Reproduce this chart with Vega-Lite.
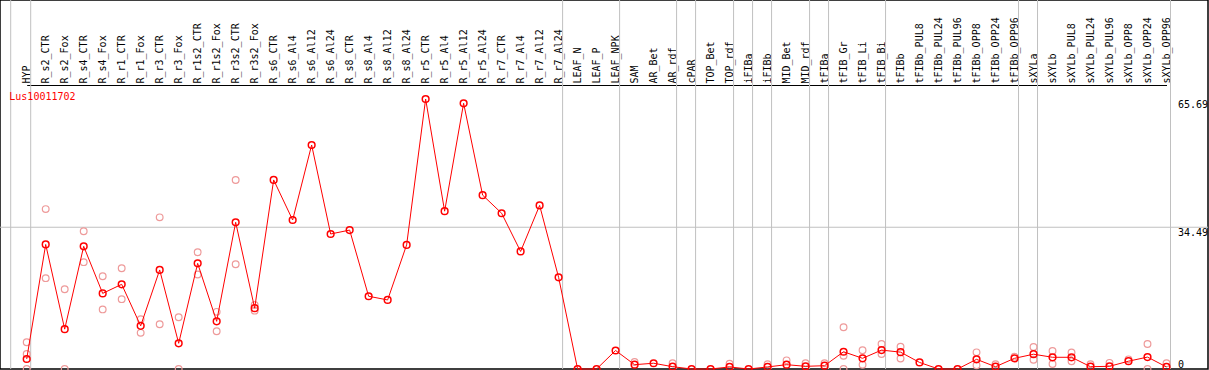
{
  "$schema": "https://vega.github.io/schema/vega-lite/v6.json",
  "width": 1208,
  "height": 369,
  "padding": {"left": 0, "top": 0, "right": 1, "bottom": 1},
  "autosize": {"type": "none"},
  "background": "white",
  "config": {
    "view": {"stroke": "#000000", "strokeWidth": 1.5},
    "font": "DejaVu Sans Mono",
    "axisX": {"offset": -85, "ticks": false, "grid": false, "domainColor": "#000000", "domainWidth": 1, "labelAngle": -90, "labelAlign": "left", "labelBaseline": "middle", "labelPadding": 2, "labelFont": "DejaVu Sans Mono", "labelFontSize": 10, "labelColor": "#000000", "labelOverlap": false, "labelBound": false, "labelFlush": false},
    "axisY": {"offset": -31, "domain": false, "ticks": false, "grid": false, "labelAlign": "left", "labelPadding": 0.5, "labelFont": "DejaVu Sans Mono", "labelFontSize": 10, "labelColor": "#000000", "labelFlush": false, "labelBaseline": {"condition": {"test": "datum.value == 0", "value": "bottom"}, "value": "top"}}
  },
  "datasets": {
    "main": [
      {"col": "HYP", "v": 2.43}, {"col": "R_s2_CTR", "v": 30.3}, {"col": "R_s2_Fox", "v": 9.7}, {"col": "R_s4_CTR", "v": 29.85}, {"col": "R_s4_Fox", "v": 18.4},
      {"col": "R_r1_CTR", "v": 20.6}, {"col": "R_r1_Fox", "v": 10.5}, {"col": "R_r3_CTR", "v": 24.1}, {"col": "R_r3_Fox", "v": 6.25}, {"col": "R_r1s2_CTR", "v": 25.7},
      {"col": "R_r1s2_Fox", "v": 11.6}, {"col": "R_r3s2_CTR", "v": 35.7}, {"col": "R_r3s2_Fox", "v": 14.8}, {"col": "R_s6_CTR", "v": 46.0}, {"col": "R_s6_Al4", "v": 36.25},
      {"col": "R_s6_Al12", "v": 54.5}, {"col": "R_s6_Al24", "v": 32.85}, {"col": "R_s8_CTR", "v": 33.8}, {"col": "R_s8_Al4", "v": 17.7}, {"col": "R_s8_Al12", "v": 16.8},
      {"col": "R_s8_Al24", "v": 30.2}, {"col": "R_r5_CTR", "v": 65.69}, {"col": "R_r5_Al4", "v": 38.4}, {"col": "R_r5_Al12", "v": 64.65}, {"col": "R_r5_Al24", "v": 42.3},
      {"col": "R_r7_CTR", "v": 37.9}, {"col": "R_r7_Al4", "v": 28.6}, {"col": "R_r7_Al12", "v": 39.8}, {"col": "R_r7_Al24", "v": 22.3}, {"col": "LEAF_N", "v": 0},
      {"col": "LEAF_P", "v": 0}, {"col": "LEAF_NPK", "v": 4.5}, {"col": "SAM", "v": 1.05}, {"col": "AR_Bet", "v": 1.4}, {"col": "AR_rdf", "v": 0.56},
      {"col": "cPAR", "v": 0}, {"col": "TOP_Bet", "v": 0}, {"col": "TOP_rdf", "v": 0.5}, {"col": "iFIBa", "v": 0}, {"col": "iFIBb", "v": 0.5},
      {"col": "MID_Bet", "v": 1.05}, {"col": "MID_rdf", "v": 0.65}, {"col": "tFIBa", "v": 0.8}, {"col": "tFIB_Gr", "v": 4.2}, {"col": "tFIB_Li", "v": 2.6},
      {"col": "tFIB_Bi", "v": 4.6}, {"col": "tFIBb", "v": 4.1}, {"col": "tFIBb_PUL8", "v": 1.6}, {"col": "tFIBb_PUL24", "v": 0}, {"col": "tFIBb_PUL96", "v": 0},
      {"col": "tFIBb_OPP8", "v": 2.35}, {"col": "tFIBb_OPP24", "v": 0.56}, {"col": "tFIBb_OPP96", "v": 2.6}, {"col": "sXYLa", "v": 3.6}, {"col": "sXYLb", "v": 2.85},
      {"col": "sXYLb_PUL8", "v": 2.85}, {"col": "sXYLb_PUL24", "v": 0.56}, {"col": "sXYLb_PUL96", "v": 0.65}, {"col": "sXYLb_OPP8", "v": 1.9}, {"col": "sXYLb_OPP24", "v": 2.9},
      {"col": "sXYLb_OPP96", "v": 0.5}
    ],
    "reps": [
      {"col": "HYP", "v": 6.5}, {"col": "HYP", "v": 3.65}, {"col": "HYP", "v": 0},
      {"col": "R_s2_CTR", "v": 38.9}, {"col": "R_s2_CTR", "v": 22.1},
      {"col": "R_s2_Fox", "v": 19.4}, {"col": "R_s2_Fox", "v": 0},
      {"col": "R_s4_CTR", "v": 33.5}, {"col": "R_s4_CTR", "v": 26.0},
      {"col": "R_s4_Fox", "v": 22.55}, {"col": "R_s4_Fox", "v": 14.5},
      {"col": "R_r1_CTR", "v": 24.5}, {"col": "R_r1_CTR", "v": 17.0},
      {"col": "R_r1_Fox", "v": 12.1}, {"col": "R_r1_Fox", "v": 8.8},
      {"col": "R_r3_CTR", "v": 36.9}, {"col": "R_r3_CTR", "v": 10.9},
      {"col": "R_r3_Fox", "v": 12.6}, {"col": "R_r3_Fox", "v": 0},
      {"col": "R_r1s2_CTR", "v": 28.4}, {"col": "R_r1s2_CTR", "v": 23.0},
      {"col": "R_r1s2_Fox", "v": 13.9}, {"col": "R_r1s2_Fox", "v": 9.2},
      {"col": "R_r3s2_CTR", "v": 46.0}, {"col": "R_r3s2_CTR", "v": 25.5},
      {"col": "R_r3s2_Fox", "v": 15.6}, {"col": "R_r3s2_Fox", "v": 14.2},
      {"col": "SAM", "v": 1.7},
      {"col": "AR_rdf", "v": 1.4},
      {"col": "TOP_rdf", "v": 1.3},
      {"col": "iFIBb", "v": 1.15},
      {"col": "MID_Bet", "v": 2.1},
      {"col": "MID_rdf", "v": 1.4},
      {"col": "tFIBa", "v": 1.4},
      {"col": "tFIB_Gr", "v": 10.15}, {"col": "tFIB_Gr", "v": 3.2}, {"col": "tFIB_Gr", "v": 0},
      {"col": "tFIB_Li", "v": 4.55}, {"col": "tFIB_Li", "v": 1.05},
      {"col": "tFIB_Bi", "v": 6.1}, {"col": "tFIB_Bi", "v": 3.65},
      {"col": "tFIBb", "v": 5.4}, {"col": "tFIBb", "v": 2.55},
      {"col": "tFIBb_OPP8", "v": 4.05}, {"col": "tFIBb_OPP8", "v": 0.9},
      {"col": "tFIBb_OPP24", "v": 1.15},
      {"col": "tFIBb_OPP96", "v": 3.0},
      {"col": "sXYLa", "v": 5.35}, {"col": "sXYLa", "v": 2.25},
      {"col": "sXYLb", "v": 4.4}, {"col": "sXYLb", "v": 1.2},
      {"col": "sXYLb_PUL8", "v": 4.0}, {"col": "sXYLb_PUL8", "v": 1.9},
      {"col": "sXYLb_PUL24", "v": 1.15},
      {"col": "sXYLb_PUL96", "v": 1.5},
      {"col": "sXYLb_OPP8", "v": 2.35},
      {"col": "sXYLb_OPP24", "v": 6.1}, {"col": "sXYLb_OPP24", "v": 0},
      {"col": "sXYLb_OPP96", "v": 1.4}
    ],
    "seps": [
      {"col": "HYP"}, {"col": "R_r7_Al24"}, {"col": "LEAF_NPK"}, {"col": "AR_rdf"}, {"col": "cPAR"}, {"col": "TOP_rdf"}, {"col": "iFIBa"},
      {"col": "iFIBb"}, {"col": "MID_rdf"}, {"col": "tFIBa"}, {"col": "tFIB_Bi"}, {"col": "tFIBb_OPP96"}, {"col": "sXYLa"}, {"col": "sXYLb_OPP96"}
    ],
    "label": [{"gene": "Lus10011702"}]
  },
  "layer": [
    {
      "data": {"name": "seps"},
      "mark": {"type": "rule", "color": "#c0c0c0", "strokeWidth": 1, "xOffset": 4},
      "encoding": {
        "x": {
          "field": "col", "type": "nominal",
          "axis": {"orient": "top", "title": null},
          "scale": {
            "type": "point", "padding": 0, "range": [26.7, 1166.5],
            "domain": ["HYP","R_s2_CTR","R_s2_Fox","R_s4_CTR","R_s4_Fox","R_r1_CTR","R_r1_Fox","R_r3_CTR","R_r3_Fox","R_r1s2_CTR","R_r1s2_Fox","R_r3s2_CTR","R_r3s2_Fox","R_s6_CTR","R_s6_Al4","R_s6_Al12","R_s6_Al24","R_s8_CTR","R_s8_Al4","R_s8_Al12","R_s8_Al24","R_r5_CTR","R_r5_Al4","R_r5_Al12","R_r5_Al24","R_r7_CTR","R_r7_Al4","R_r7_Al12","R_r7_Al24","LEAF_N","LEAF_P","LEAF_NPK","SAM","AR_Bet","AR_rdf","cPAR","TOP_Bet","TOP_rdf","iFIBa","iFIBb","MID_Bet","MID_rdf","tFIBa","tFIB_Gr","tFIB_Li","tFIB_Bi","tFIBb","tFIBb_PUL8","tFIBb_PUL24","tFIBb_PUL96","tFIBb_OPP8","tFIBb_OPP24","tFIBb_OPP96","sXYLa","sXYLb","sXYLb_PUL8","sXYLb_PUL24","sXYLb_PUL96","sXYLb_OPP8","sXYLb_OPP24","sXYLb_OPP96"]
          }
        }
      }
    },
    {
      "data": {"name": "label"},
      "mark": {"type": "rule", "color": "#c0c0c0", "strokeWidth": 1, "xOffset": -16},
      "encoding": {"x": {"datum": "HYP", "type": "nominal", "axis": {"orient": "top", "title": null}}}
    },
    {
      "data": {"name": "label"},
      "mark": {"type": "rule", "color": "#c0c0c0", "strokeWidth": 1},
      "encoding": {"y": {"datum": 34.49, "type": "quantitative", "axis": {"orient": "right", "title": null, "values": [0, 34.49, 65.69], "labelExpr": "datum.value == 0 ? '0' : format(datum.value, '.2f')"}}}
    },
    {
      "data": {"name": "label"},
      "mark": {"type": "text", "color": "#ff0000", "align": "left", "baseline": "middle", "dx": -17.4, "fontSize": 10, "font": "DejaVu Sans Mono"},
      "encoding": {
        "x": {"datum": "HYP", "type": "nominal", "axis": {"orient": "top", "title": null}},
        "y": {"datum": 66.06, "type": "quantitative", "axis": {"orient": "right", "title": null, "values": [0, 34.49, 65.69], "labelExpr": "datum.value == 0 ? '0' : format(datum.value, '.2f')"}},
        "text": {"field": "gene"}
      }
    },
    {
      "data": {"name": "reps"},
      "mark": {"type": "point", "shape": "circle", "filled": false, "color": "#ee9a9a", "strokeWidth": 1.2, "size": 45, "opacity": 1},
      "encoding": {
        "x": {"field": "col", "type": "nominal", "axis": {"orient": "top", "title": null}},
        "y": {
          "field": "v", "type": "quantitative",
          "scale": {"domain": [0, 89.78], "nice": false, "zero": false},
          "axis": {"orient": "right", "title": null, "values": [0, 34.49, 65.69], "labelExpr": "datum.value == 0 ? '0' : format(datum.value, '.2f')"}
        }
      }
    },
    {
      "data": {"name": "main"},
      "mark": {"type": "line", "color": "#ff0000", "strokeWidth": 1},
      "encoding": {
        "x": {"field": "col", "type": "nominal", "axis": {"orient": "top", "title": null}},
        "y": {"field": "v", "type": "quantitative", "axis": {"orient": "right", "title": null, "values": [0, 34.49, 65.69], "labelExpr": "datum.value == 0 ? '0' : format(datum.value, '.2f')"}}
      }
    },
    {
      "data": {"name": "main"},
      "mark": {"type": "point", "shape": "circle", "filled": false, "color": "#ff0000", "strokeWidth": 1.5, "size": 45, "opacity": 1},
      "encoding": {
        "x": {"field": "col", "type": "nominal", "axis": {"orient": "top", "title": null}},
        "y": {"field": "v", "type": "quantitative", "axis": {"orient": "right", "title": null, "values": [0, 34.49, 65.69], "labelExpr": "datum.value == 0 ? '0' : format(datum.value, '.2f')"}}
      }
    }
  ]
}
